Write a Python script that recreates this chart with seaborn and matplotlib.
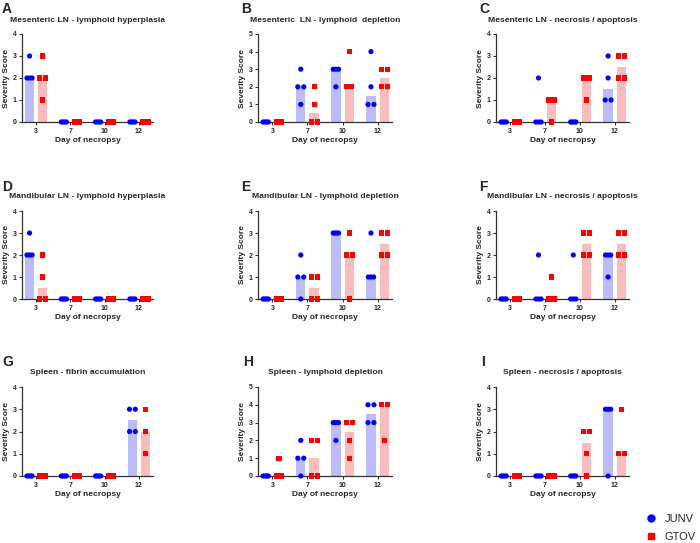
import numpy as np
import pandas as pd
import matplotlib
matplotlib.use("Agg")
import matplotlib.pyplot as plt
from matplotlib.lines import Line2D
import seaborn as sns

sns.set_theme(style="ticks")
plt.rcParams['font.family'] = ['Liberation Sans', 'DejaVu Sans']

days = ["3", "7", "10", "12"]
viruses = ["JUNV", "GTOV"]
letters = ["A", "B", "C", "D", "E", "F", "G", "H", "I"]
titles = [
    "Mesenteric LN - lymphoid hyperplasia",
    "Mesenteric  LN - lymphoid  depletion",
    "Mesenteric LN - necrosis / apoptosis",
    "Mandibular LN - lymphoid hyperplasia",
    "Mandibular LN - lymphoid depletion",
    "Mandibular LN - necrosis / apoptosis",
    "Spleen - fibrin accumulation",
    "Spleen - lymphoid depletion",
    "Spleen - necrosis / apoptosis",
]
ymax = [4, 5, 4, 4, 4, 4, 4, 5, 4]

# Individual severity scores per day (3, 7, 10, 12)
A_junv = [[3, 2, 2, 2], [0, 0, 0, 0], [0, 0, 0, 0], [0, 0, 0, 0]]
A_gtov = [[3, 2, 2, 1], [0, 0, 0, 0], [0, 0, 0, 0], [0, 0, 0, 0]]
B_junv = [[0, 0, 0, 0], [3, 2, 2, 1], [3, 3, 3, 2], [4, 2, 1, 1]]
B_gtov = [[0, 0, 0, 0], [2, 1, 0, 0], [4, 2, 2, 2], [3, 3, 2, 2]]
C_junv = [[0, 0, 0, 0], [2, 0, 0, 0], [0, 0, 0, 0], [3, 2, 1, 1]]
C_gtov = [[0, 0, 0, 0], [1, 1, 1, 0], [2, 2, 2, 1], [3, 3, 2, 2]]
D_junv = [[3, 2, 2, 2], [0, 0, 0, 0], [0, 0, 0, 0], [0, 0, 0, 0]]
D_gtov = [[2, 1, 0, 0], [0, 0, 0, 0], [0, 0, 0, 0], [0, 0, 0, 0]]
E_junv = [[0, 0, 0, 0], [2, 1, 1, 0], [3, 3, 3, 3], [3, 1, 1, 1]]
E_gtov = [[0, 0, 0, 0], [1, 1, 0, 0], [3, 2, 2, 0], [3, 3, 2, 2]]
F_junv = [[0, 0, 0, 0], [2, 0, 0, 0], [2, 0, 0, 0], [2, 2, 2, 1]]
F_gtov = [[0, 0, 0, 0], [1, 0, 0, 0], [3, 3, 2, 2], [3, 3, 2, 2]]
G_junv = [[0, 0, 0, 0], [0, 0, 0, 0], [0, 0, 0, 0], [3, 3, 2, 2]]
G_gtov = [[0, 0, 0, 0], [0, 0, 0, 0], [0, 0, 0, 0], [3, 2, 1]]
H_junv = [[0, 0, 0, 0], [2, 1, 1, 0], [3, 3, 3, 2], [4, 4, 3, 3]]
H_gtov = [[1, 0, 0, 0], [2, 2, 0, 0], [3, 3, 2, 1], [4, 4, 2]]
I_junv = [[0, 0, 0, 0], [0, 0, 0, 0], [0, 0, 0, 0], [3, 3, 3, 0]]
I_gtov = [[0, 0, 0, 0], [0, 0, 0, 0], [2, 2, 1, 0], [3, 1, 1]]

panels = [(A_junv, A_gtov), (B_junv, B_gtov), (C_junv, C_gtov),
          (D_junv, D_gtov), (E_junv, E_gtov), (F_junv, F_gtov),
          (G_junv, G_gtov), (H_junv, H_gtov), (I_junv, I_gtov)]

point_colors = {"JUNV": "#0000FF", "GTOV": "#FF0000"}
bar_colors = {"JUNV": "#BCBCFA", "GTOV": "#FABCBC"}
hue_offset = {"JUNV": -0.19, "GTOV": 0.19}


def build_frame(junv, gtov):
    rows = []
    for v, series in zip(viruses, (junv, gtov)):
        for di, vals in enumerate(series):
            vals = list(vals)
            counts = {}
            for val in vals:
                counts[val] = counts.get(val, 0) + 1
            seen = {}
            for val in vals:
                k = counts[val]
                i = seen.get(val, 0)
                seen[val] = i + 1
                if k == 1:
                    step = 0.0
                elif k == 2:
                    step = 0.17
                else:
                    step = 0.15 / (k - 1)
                xpos = di + hue_offset[v] + (i - (k - 1) / 2) * step
                rows.append({"day": days[di], "virus": v, "score": val, "xpos": xpos})
    return pd.DataFrame(rows)


fig = plt.figure(figsize=(7.0, 5.43), dpi=100)
W, H = 700.0, 543.0
col_px = [(22, 153), (258, 392), (496, 629)]
row_px = [(34, 122), (211, 299), (387, 476)]
letter_px = [(2, 2), (241, 2), (479, 2), (2, 180), (241, 180), (479, 180),
             (2, 355), (243, 355), (481, 355)]

for p in range(9):
    r, c = divmod(p, 3)
    l, rt = col_px[c]
    t, b = row_px[r]
    ax = fig.add_axes([l / W, 1 - b / H, (rt - l) / W, (b - t) / H])
    df = build_frame(*panels[p])
    sns.barplot(data=df, x="day", y="score", hue="virus", order=days,
                hue_order=viruses, estimator=np.median, errorbar=None,
                palette=bar_colors, saturation=1, width=0.76, gap=0.3,
                linewidth=0, legend=False, ax=ax)
    sns.scatterplot(data=df, x="xpos", y="score", hue="virus", style="virus",
                    hue_order=viruses, style_order=viruses,
                    markers={"JUNV": "o", "GTOV": "s"}, palette=point_colors,
                    s=14, linewidth=0, legend=False, ax=ax, zorder=3,
                    clip_on=False)
    ax.set_xlim(-0.41, 3.41)
    ax.set_ylim(0, ymax[p])
    ax.set_yticks(range(0, ymax[p] + 1))
    ax.set_xticks(range(len(days)))
    ax.set_xticklabels(days)
    ax.tick_params(axis="both", labelsize=5, length=2.5, width=0.8, pad=1.5,
                   color="#333333")
    for lab in ax.get_xticklabels() + ax.get_yticklabels():
        lab.set_fontweight("bold")
    for s in ("top", "right"):
        ax.spines[s].set_visible(False)
    for s in ("left", "bottom"):
        ax.spines[s].set_linewidth(0.9)
        ax.spines[s].set_color("#333333")
    ax.set_xlabel("Day of necropsy", fontsize=6, fontweight="bold", labelpad=1.5)
    ax.set_ylabel("Severity Score", fontsize=6, fontweight="bold", labelpad=2)
    ax.set_title(titles[p], fontsize=6.1, fontweight="bold", pad=9)
    lx, ly = letter_px[p]
    fig.text(lx / W, 1 - ly / H, letters[p], fontsize=10, fontweight="bold",
             va="top", ha="left")

handles = [Line2D([], [], marker="o", linestyle="none", color=point_colors["JUNV"],
                  markersize=5),
           Line2D([], [], marker="s", linestyle="none", color=point_colors["GTOV"],
                  markersize=5)]
fig.legend(handles, viruses, loc="center left", bbox_to_anchor=(0.922, 0.028),
           frameon=False, fontsize=8, handletextpad=0.7, labelspacing=0.75,
           handlelength=1.0, borderaxespad=0, borderpad=0)

fig.savefig("out.png", dpi=100)
